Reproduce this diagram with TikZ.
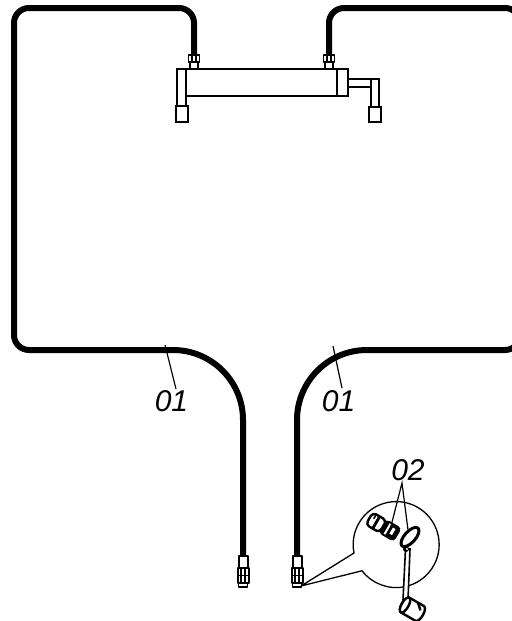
\documentclass[tikz,border=0pt]{standalone}
\usepackage{fontspec}
\setmainfont{Liberation Sans}
\usepackage{tikz}

\begin{document}
\begin{tikzpicture}[x=0.5pt, y=-0.5pt, font=\itshape\fontsize{15}{15}\selectfont,
	tube/.style={line width=3pt},
	part/.style={draw, fill=white, line width=0.7pt},
	thickpart/.style={draw, fill=white, line width=1.2pt, line join=round},
	leader/.style={line width=0.6pt},
	callout/.style={anchor=center, inner sep=0pt}]
	\useasboundingbox (0,0) rectangle (512,621);
	\clip (0,0) rectangle (512,621);
	% tubes
	\draw[tube, rounded corners=7.5pt] (194,56) -- (194,8) -- (14,8) -- (14,350) [rounded corners=35pt] -- (243,350) -- (243,556);
	\draw[tube, rounded corners=7.5pt] (329,56) -- (329,8) -- (520,8) -- (520,350) [rounded corners=35pt] -- (297,350) -- (297,556);
	% cylinder
	\draw[part] (186,69) rectangle (337,96);
	\draw[part] (177,69) rectangle (186,106);
	\draw[part] (176,106) rectangle (188,122);
	\draw[part] (337,69) rectangle (348,96);
	\draw[part] (348,79) rectangle (372,87);
	\draw[part] (371,79) rectangle (379,107);
	\draw[part] (369,107) rectangle (381,122);
	\foreach \px in {194,329}{
		\draw[part] (\px-4,62) rectangle (\px+4,69);
		\draw[thickpart, line width=0.9pt] (\px-5.5,55) rectangle (\px+5.5,62);
		\draw[line width=0.7pt] (\px-2,55) -- (\px-2,62) (\px+2,55) -- (\px+2,62);
	}
	% end fittings
	\foreach \px in {243,297}{
		\draw[thickpart, line width=1pt] (\px-4.5,556) rectangle (\px+4.5,568);
		\draw[thickpart, line width=1pt] (\px-5.5,568) rectangle (\px+5.5,583);
		\draw[line width=0.7pt] (\px-5.5,575.5) -- (\px+5.5,575.5) (\px-2,568) -- (\px-2,583) (\px+2,568) -- (\px+2,583);
		\draw[thickpart, line width=0.9pt] (\px-4.5,583) rectangle (\px+4.5,587);
	}
	% detail circle
	\coordinate (tip) at (301,586);
	\coordinate (circleA) at (354,553);
	\coordinate (circleB) at (362,571);
	\draw[line width=0.65pt] (tip) -- (circleA) arc[start angle=168.7, end angle=502.5, radius=43] -- (tip);
	% nut
	\begin{scope}[shift={(384,527)}, rotate=-30]
		\draw[thickpart, rounded corners=2pt] (-17,-7) rectangle (-1,7);
		\draw[line width=1.4pt] (-9,-7) -- (-9,7);
		\draw[line width=0.8pt] (-13,-7) -- (-13,-2);
		\fill[rounded corners=2pt] (-2,-8) rectangle (16,8);
		\fill[white] (3,-6) rectangle (5,6);
		\fill[white] (8,-4) rectangle (11,3);
	\end{scope}
	% ring and cable
	\draw[line width=0.8pt, fill=white] (405.5,549) -- (403,600) -- (408,600) -- (410,549) -- cycle;
	\begin{scope}[shift={(410,537)}, rotate=-42]
		\draw[thickpart, line width=1.5pt] (0,0) ellipse[x radius=5.5, y radius=12];
	\end{scope}
	\fill (406,549) circle[radius=3];
	\fill[white] (407,549) circle[radius=1.2];
	\begin{scope}[shift={(412,609)}, rotate=-30]
		\draw[thickpart] (-8,-8.5) -- (9,-8.5) arc[start angle=-90, end angle=90, x radius=3.5, y radius=8.5] -- (-8,8.5) arc[start angle=90, end angle=270, x radius=3.5, y radius=8.5] -- cycle;
		\draw[thickpart] (-8,0) ellipse[x radius=3.5, y radius=8.5];
		\draw[line width=1.2pt] (2,-8.5) -- (8,-3);
	\end{scope}
	% labels
	\node[callout] (labelA) at (171.5,401) {01};
	\node[callout] (labelB) at (338.5,401) {01};
	\node[callout] (labelC) at (408,470) {02};
	\coordinate (pointA) at (165,345);
	\coordinate (pointB) at (333,346);
	\coordinate (pointC) at (390,530);
	\coordinate (pointD) at (408,530);
	\coordinate (startA) at (176,389);
	\coordinate (startB) at (342,388);
	\coordinate (startC) at (402,483);
	\draw[leader] (startA) -- (pointA);
	\draw[leader] (startB) -- (pointB);
	\draw[leader] (pointC) -- (startC) -- (pointD);
\end{tikzpicture}
\end{document}
